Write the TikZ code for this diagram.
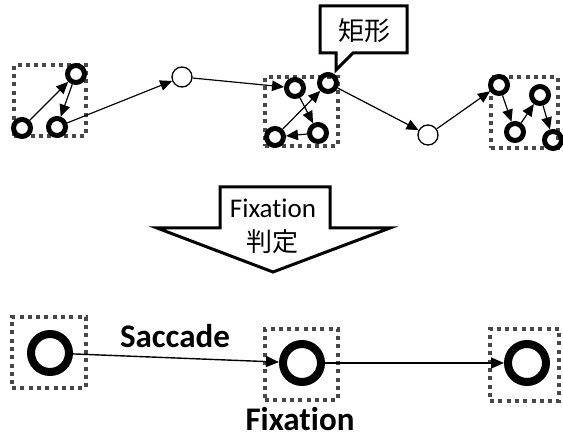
\documentclass[tikz,border=0pt]{standalone}
\usepackage{fontspec}
\setmainfont[Ligatures=NoCommon]{Carlito}
\newfontfamily\cjk{Noto Sans CJK JP}
\usetikzlibrary{arrows.meta}
\tikzset{
  fixpt/.style={circle, draw, line width=5pt, minimum size=17pt, inner sep=0pt},
  gazept/.style={circle, draw, line width=1.3pt, fill=white, minimum size=20pt, inner sep=0pt},
  bigpt/.style={circle, draw, line width=8pt, minimum size=38pt, inner sep=0pt},
  area/.style={draw=black!72, line width=4pt, dash pattern=on 4pt off 4.3pt, inner sep=0pt},
  mv/.style={line width=1.2pt, -{Triangle[length=12pt,width=10.5pt]}},
  bigmv/.style={line width=1.4pt, -{Triangle[length=13pt,width=11pt]}},
}
\begin{document}
\begin{tikzpicture}[x=1pt,y=-1pt]
\useasboundingbox (0,0) rectangle (563,438);

% dotted fixation areas, top row
\node[area, minimum width=72pt, minimum height=71pt] (t1) at (50,100.5) {};
\node[area, minimum width=73pt, minimum height=69pt] (t2) at (301.5,111.5) {};
\node[area, minimum width=67pt, minimum height=71pt] (t3) at (524,112.5) {};

% raw gaze points, top row
\node[fixpt] (a) at (22,128) {};
\node[fixpt] (b) at (76,74) {};
\node[fixpt] (c) at (57,127) {};
\node[gazept] (d) at (182,77) {};
\node[fixpt] (e) at (295,88) {};
\node[fixpt] (f) at (328,83) {};
\node[fixpt] (g) at (318,133) {};
\node[fixpt] (h) at (275,137) {};
\node[gazept] (i) at (428,135) {};
\node[fixpt] (j) at (499,85) {};
\node[fixpt] (k) at (515,132) {};
\node[fixpt] (l) at (540,95) {};
\node[fixpt] (m) at (553,140) {};

\draw[mv] (a) -- (b);
\draw[mv] (b) -- (c);
\draw[mv] (c) -- (d);
\draw[mv] (d) -- (e);
\draw[mv] (e) -- (g);
\draw[mv] (g) -- (h);
\draw[mv] (h) -- (f);
\draw[mv] (f) -- (i);
\draw[mv] (i) -- (j);
\draw[mv] (j) -- (k);
\draw[mv] (k) -- (l);
\draw[mv] (l) -- (m);

% callout
\draw[line width=3pt, line join=miter, fill=white]
  (320,6) -- (407,6) -- (407,53) -- (353,53) -- (336,70) -- (336,53) -- (320,53) -- cycle;
\node[font=\cjk\fontsize{26}{30}\selectfont] (lbl) at (364,31) {矩形};

% big down arrow
\draw[line width=3pt, line join=miter, fill=white]
  (220,187) -- (330,187) -- (330,228) -- (390,228) -- (273,272) -- (157,228) -- (220,228) -- cycle;
\node[font=\fontsize{27}{30}\selectfont] (fx) at (273,208) {Fixation};
\node[font=\cjk\fontsize{26}{30}\selectfont] (hj) at (272,242) {判定};

% bottom row
\node[area, minimum width=74pt, minimum height=71pt] (b1) at (49,352.5) {};
\node[area, minimum width=73pt, minimum height=71pt] (b2) at (301.5,364.5) {};
\node[area, minimum width=69pt, minimum height=72pt] (b3) at (524.5,365) {};

\node[bigpt] (p1) at (50,353) {};
\node[bigpt] (p2) at (302,363) {};
\node[bigpt] (p3) at (527,363) {};

\draw[bigmv] (p1) -- (p2);
\draw[bigmv] (p2) -- (p3);

\node[font=\bfseries\fontsize{33}{36}\selectfont] (sac) at (175,336) {Saccade};
\node[font=\bfseries\fontsize{33}{36}\selectfont] (fix) at (300,419) {Fixation};
\end{tikzpicture}
\end{document}
